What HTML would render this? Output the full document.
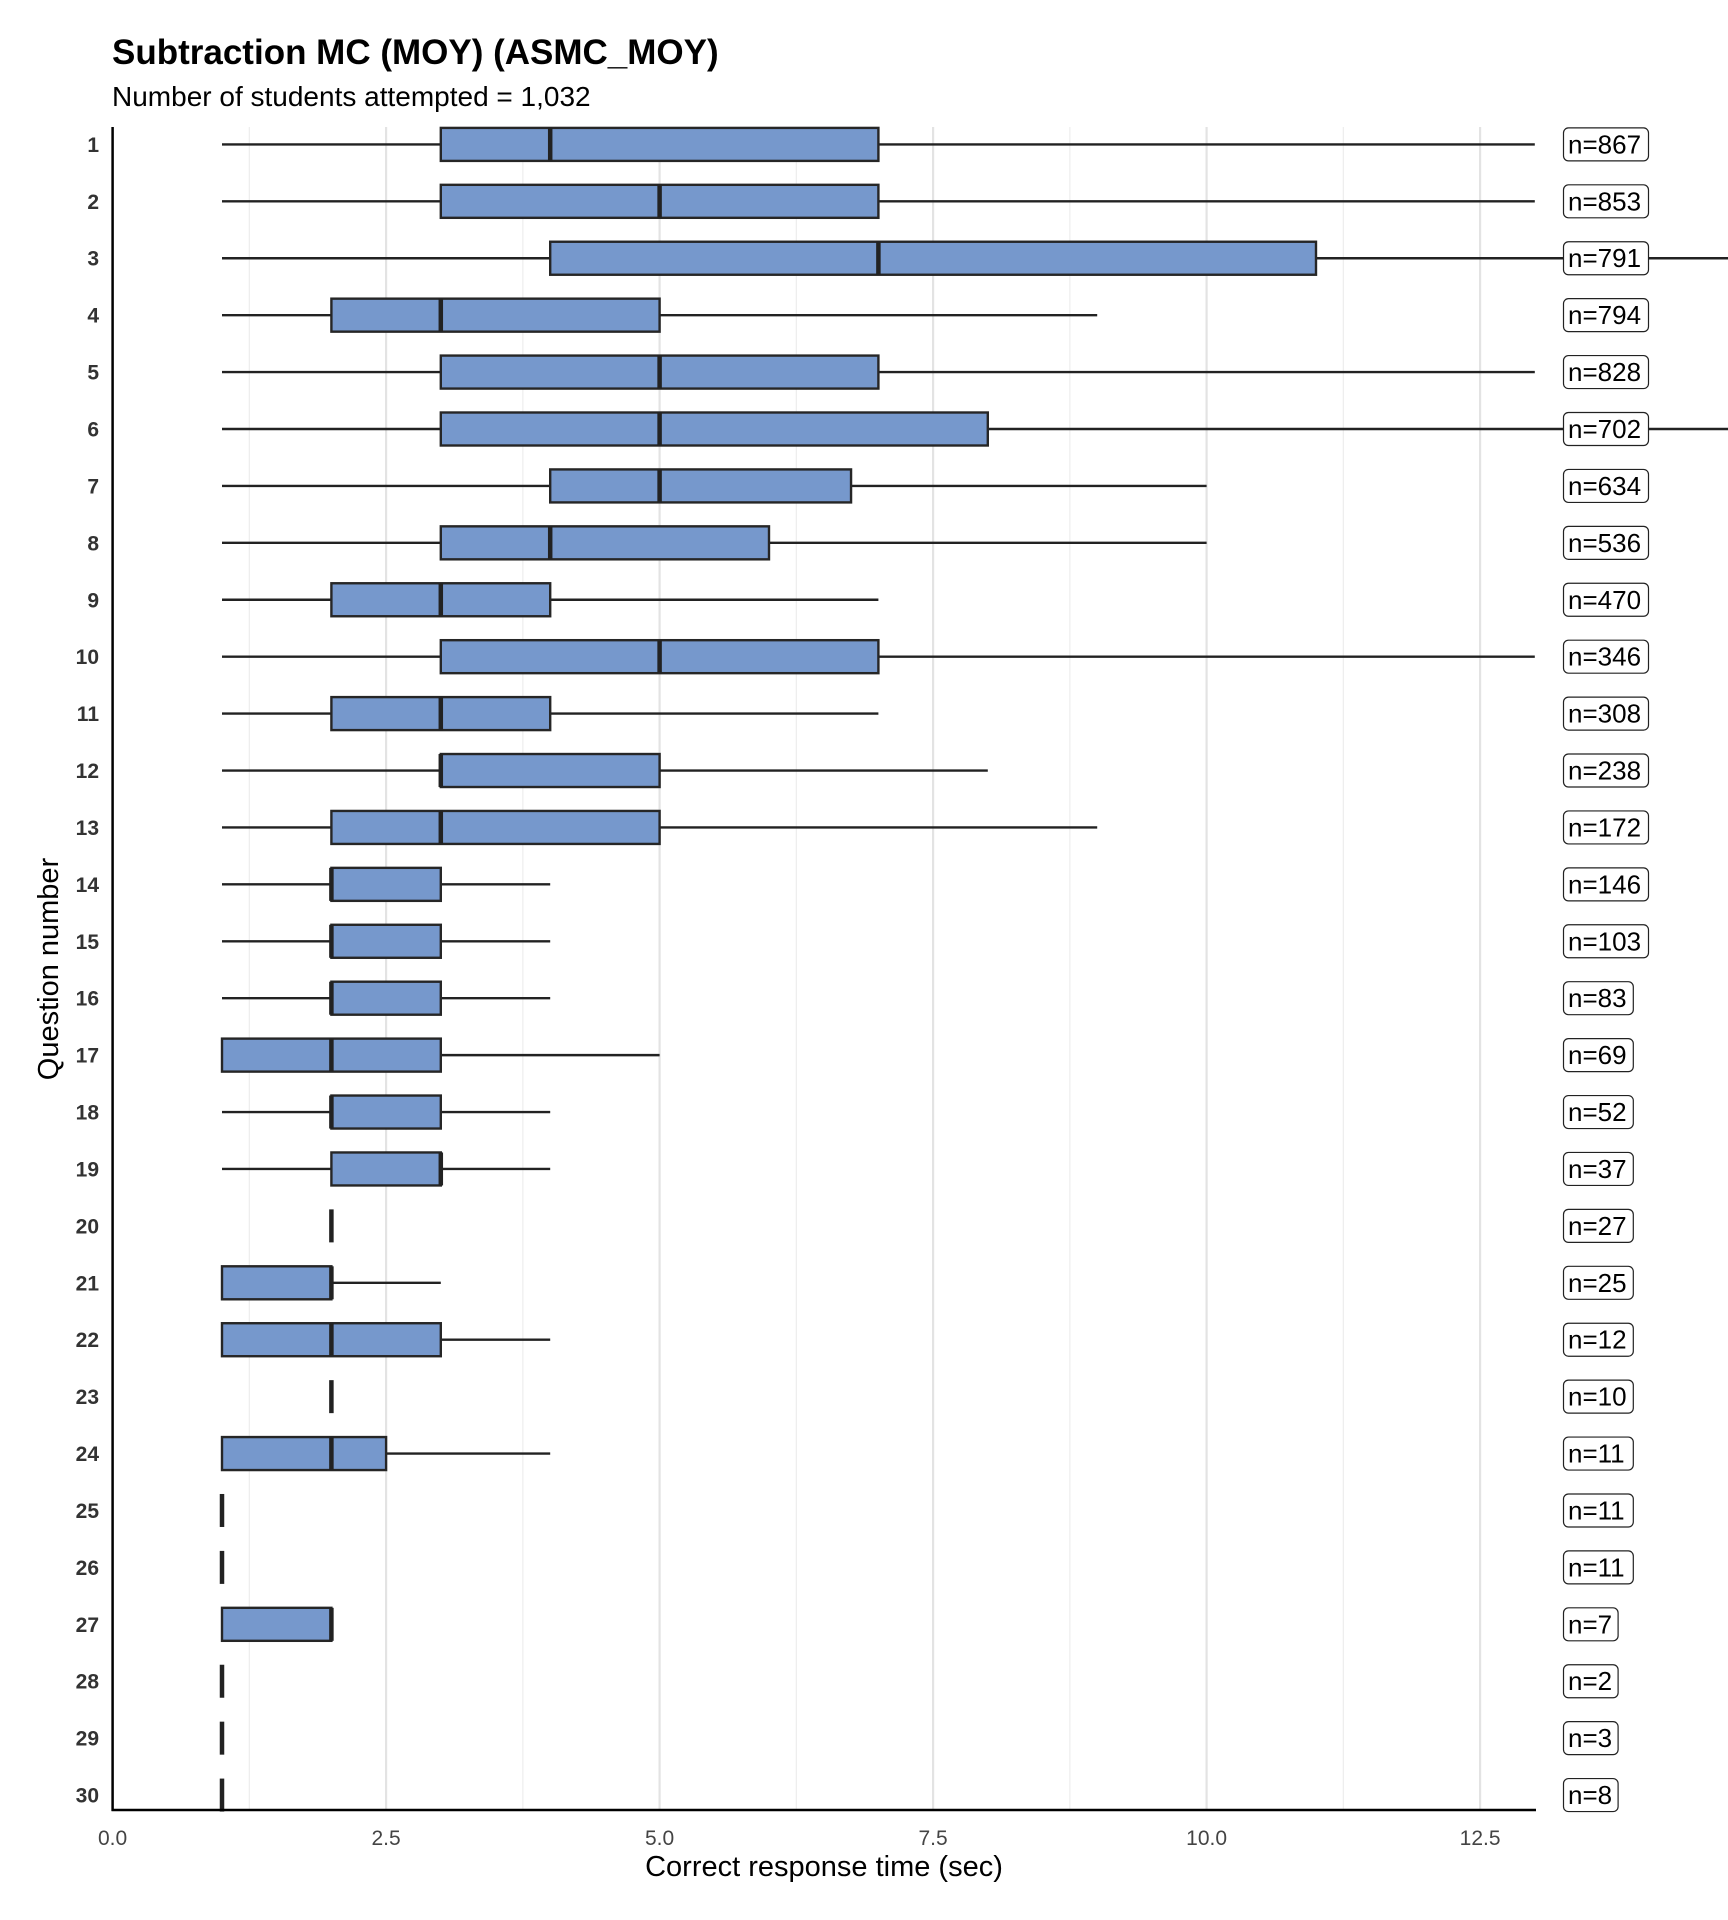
<!DOCTYPE html>
<html><head><meta charset="utf-8"><style>
html,body{margin:0;padding:0;background:#fff;}
svg{display:block;font-family:"Liberation Sans",Arial,sans-serif;}
</style></head><body>
<svg id="s" width="1728" height="1920" viewBox="0 0 1728 1920" xmlns="http://www.w3.org/2000/svg">
<text x="112" y="64" font-size="35" font-weight="bold" fill="#000">Subtraction MC (MOY) (ASMC_MOY)</text>
<text x="112" y="106" font-size="28" fill="#000">Number of students attempted = 1,032</text>
<g id="grid"></g>
<g id="boxes"></g>
<g id="labels"></g>
<line x1="112.6" y1="127" x2="112.6" y2="1811" stroke="#000" stroke-width="2.5"/>
<line x1="111.5" y1="1810" x2="1536" y2="1810" stroke="#000" stroke-width="2.5"/>
<text x="824" y="1876" font-size="29" text-anchor="middle" fill="#000">Correct response time (sec)</text>
<text transform="translate(58,969) rotate(-90)" font-size="29" text-anchor="middle" fill="#000">Question number</text>
</svg>
<script>
var NS="http://www.w3.org/2000/svg";
function X(v){return 112.6+v*109.4;}
function Y(i){return 144.4+(i-1)*56.92;}
function el(p,t,a,txt){var e=document.createElementNS(NS,t);for(var k in a)e.setAttribute(k,a[k]);if(txt!==undefined)e.textContent=txt;p.appendChild(e);return e;}
var g=document.getElementById('grid'),b=document.getElementById('boxes'),L=document.getElementById('labels');
for(var k=1;k<=10;k++){var v=k*1.25;var major=(k%2==0);
el(g,'line',{x1:X(v),y1:127,x2:X(v),y2:1809,stroke:major?'#e3e3e3':'#eeeeee','stroke-width':major?2.2:1.2});}
["0.0","2.5","5.0","7.5","10.0","12.5"].forEach(function(t,i){el(L,'text',{x:X(i*2.5),y:1845,'font-size':21,'text-anchor':'middle',fill:'#444'},t);});
var E=15.5;
var d=[[1,3,4,7,13],[1,3,5,7,13],[1,4,7,11,E],[1,2,3,5,9],[1,3,5,7,13],[1,3,5,8,E],[1,4,5,6.75,10],[1,3,4,6,10],[1,2,3,4,7],[1,3,5,7,13],
[1,2,3,4,7],[1,3,3,5,8],[1,2,3,5,9],[1,2,2,3,4],[1,2,2,3,4],[1,2,2,3,4],[1,1,2,3,5],[1,2,2,3,4],[1,2,3,3,4],[2,2,2,2,2],
[1,1,2,2,3],[1,1,2,3,4],[2,2,2,2,2],[1,1,2,2.5,4],[1,1,1,1,1],[1,1,1,1,1],[1,1,2,2,2],[1,1,1,1,1],[1,1,1,1,1],[1,1,1,1,1]];
var n=[867,853,791,794,828,702,634,536,470,346,308,238,172,146,103,83,69,52,37,27,25,12,10,11,11,11,7,2,3,8];
d.forEach(function(r,i){var q=i+1,y=Y(q),h=16.5;
if(r[0]<r[1])el(b,'line',{x1:X(r[0]),y1:y,x2:X(r[1]),y2:y,stroke:'#222','stroke-width':2.4});
if(r[4]>r[3])el(b,'line',{x1:X(r[3]),y1:y,x2:Math.min(X(r[4]),1728),y2:y,stroke:'#222','stroke-width':2.4});
if(r[3]>r[1])el(b,'rect',{x:X(r[1]),y:y-h,width:X(r[3])-X(r[1]),height:2*h,fill:'#7698cc',stroke:'#262626','stroke-width':2.4});
el(b,'line',{x1:X(r[2]),y1:y-h,x2:X(r[2]),y2:y+h,stroke:'#222','stroke-width':4.5});
el(L,'text',{x:99,y:y+7.5,'font-size':21,'font-weight':'bold','text-anchor':'end',fill:'#333'},String(q));
var s='n='+n[i],w=s.length*15.2+9;
el(L,'rect',{x:1563.5,y:y-16.5,width:w,height:33,rx:5,fill:'#fff',stroke:'#222','stroke-width':1.2});
el(L,'text',{x:1568,y:y+9,'font-size':26,fill:'#000'},s);
});
</script>
</body></html>
